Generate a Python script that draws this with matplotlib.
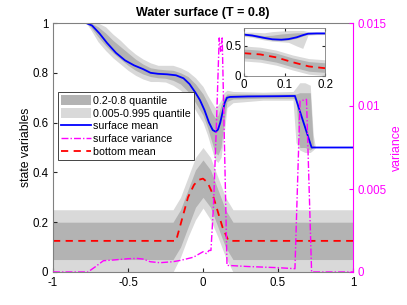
import matplotlib
matplotlib.use("Agg")
import matplotlib.pyplot as plt
from matplotlib.patches import Patch
from matplotlib.lines import Line2D

plt.rcParams['font.family'] = ['Liberation Sans', 'DejaVu Sans']
plt.rcParams['font.size'] = 8.3

# ---------------- data ----------------
# surface mean
xs_mean = [-1, -0.78, -0.74, -0.69, -0.64, -0.58, -0.52, -0.46, -0.40, -0.35, -0.30,
           -0.24, -0.18, -0.13, -0.09, -0.05, -0.02, 0.01, 0.04, 0.065, 0.085, 0.10,
           0.115, 0.13, 0.145, 0.16, 0.18, 0.3, 0.5, 0.613, 0.724, 1]
s_mean = [1, 1, 0.99, 0.958, 0.92, 0.88, 0.85, 0.83, 0.815, 0.80, 0.796,
          0.794, 0.79, 0.778, 0.755, 0.72, 0.69, 0.65, 0.60, 0.57, 0.563, 0.572,
          0.60, 0.64, 0.68, 0.70, 0.703, 0.705, 0.706, 0.707, 0.5, 0.5]

# surface quantile bands
xs_band = [-1, -0.78, -0.75, -0.70, -0.65, -0.60, -0.55, -0.50, -0.45, -0.40, -0.35,
           -0.30, -0.25, -0.20, -0.15, -0.10, -0.05, 0.0, 0.03, 0.06, 0.08, 0.10,
           0.12, 0.14, 0.16, 0.20, 0.40, 0.60, 0.62, 0.645, 0.68, 0.715, 0.735, 0.75, 1]
s_dark_lo = [1, 1, 0.985, 0.945, 0.91, 0.88, 0.855, 0.83, 0.81, 0.795, 0.785,
             0.78, 0.778, 0.77, 0.755, 0.725, 0.68, 0.63, 0.58, 0.52, 0.48, 0.47,
             0.50, 0.60, 0.685, 0.695, 0.698, 0.698, 0.69, 0.50, 0.50, 0.49, 0.50, 0.5, 0.5]
s_dark_hi = [1, 1, 1.0, 0.985, 0.96, 0.93, 0.905, 0.88, 0.855, 0.835, 0.82,
             0.815, 0.812, 0.81, 0.80, 0.785, 0.755, 0.715, 0.68, 0.64, 0.62, 0.63,
             0.67, 0.70, 0.715, 0.715, 0.714, 0.715, 0.715, 0.72, 0.72, 0.72, 0.51, 0.5, 0.5]
s_light_lo = [1, 1, 0.975, 0.925, 0.89, 0.86, 0.835, 0.81, 0.79, 0.775, 0.765,
              0.765, 0.763, 0.75, 0.73, 0.70, 0.65, 0.60, 0.55, 0.49, 0.45, 0.44,
              0.46, 0.55, 0.66, 0.68, 0.69, 0.69, 0.52, 0.49, 0.48, 0.48, 0.49, 0.5, 0.5]
s_light_hi = [1, 1, 1.0, 1.0, 0.985, 0.955, 0.93, 0.90, 0.875, 0.855, 0.84,
              0.83, 0.83, 0.83, 0.82, 0.805, 0.78, 0.745, 0.71, 0.68, 0.66, 0.67,
              0.69, 0.72, 0.73, 0.725, 0.722, 0.725, 0.74, 0.76, 0.76, 0.75, 0.55, 0.5, 0.5]

# bottom mean
xb_mean = [-1, -0.18, -0.15, -0.1, -0.06, -0.03, 0, 0.03, 0.06, 0.1, 0.13, 0.17, 1]
b_mean = [0.125, 0.125, 0.19, 0.30, 0.35, 0.37, 0.375, 0.36, 0.32, 0.24, 0.18, 0.125, 0.125]

# bottom quantile bands
xb_band = [-1, -0.2, -0.15, -0.1, -0.05, 0, 0.05, 0.1, 0.15, 0.2, 1]
b_light_lo = [0, 0, 0.06, 0.14, 0.21, 0.257, 0.21, 0.14, 0.06, 0, 0]
b_dark_lo = [0.05, 0.05, 0.10, 0.18, 0.26, 0.30, 0.26, 0.18, 0.10, 0.05, 0.05]
b_dark_hi = [0.2, 0.2, 0.25, 0.33, 0.41, 0.45, 0.41, 0.33, 0.25, 0.2, 0.2]
b_light_hi = [0.25, 0.25, 0.30, 0.38, 0.46, 0.50, 0.46, 0.38, 0.30, 0.25, 0.25]

# surface variance
xv = [-1, -0.767, -0.72, -0.664, -0.6, -0.5, -0.442, -0.4, -0.353, -0.287, -0.2,
      -0.15, -0.064, 0.0, 0.024, 0.04, 0.053, 0.07, 0.09, 0.108, 0.118, 0.128,
      0.14, 0.16, 0.3, 0.5, 0.613, 0.647, 0.69, 0.724, 1]
s_var = [0, 0, 0.0003, 0.00068, 0.00072, 0.0008, 0.00082, 0.00078, 0.00062, 0.00056, 0.00062,
         0.0007, 0.00089, 0.00122, 0.0011, 0.0013, 0.0013, 0.004, 0.009, 0.0141, 0.0133, 0.0141,
         0.009, 0.0004, 0.00033, 0.00026, 0.0002, 0.0103, 0.0104, 0.0, 0.0]

# inset data
xi = [0, 0.02, 0.05, 0.07, 0.092, 0.11, 0.13, 0.145, 0.158, 0.18, 0.2]
i_s_mean = [0.69, 0.675, 0.635, 0.612, 0.605, 0.615, 0.645, 0.68, 0.705, 0.71, 0.71]
i_s_dark_lo = [0.675, 0.66, 0.62, 0.598, 0.59, 0.60, 0.63, 0.665, 0.695, 0.70, 0.70]
i_s_dark_hi = [0.71, 0.70, 0.67, 0.68, 0.70, 0.71, 0.72, 0.72, 0.72, 0.72, 0.72]
i_s_light_lo = [0.66, 0.645, 0.60, 0.58, 0.57, 0.56, 0.50, 0.46, 0.68, 0.69, 0.69]
i_s_light_hi = [0.73, 0.73, 0.72, 0.74, 0.75, 0.76, 0.76, 0.76, 0.74, 0.73, 0.73]
xib = [0, 0.04, 0.08, 0.12, 0.16, 0.2]
i_b_mean = [0.38, 0.36, 0.31, 0.23, 0.16, 0.13]
i_b_light_lo = [0.25, 0.23, 0.18, 0.10, 0.03, 0.005]
i_b_dark_lo = [0.30, 0.28, 0.23, 0.15, 0.08, 0.06]
i_b_dark_hi = [0.45, 0.43, 0.38, 0.30, 0.24, 0.22]
i_b_light_hi = [0.50, 0.48, 0.43, 0.35, 0.29, 0.27]

xticks = [-1, -0.5, 0, 0.5, 1]
xticklabels = ['-1', '-0.5', '0', '0.5', '1']
yticks = [0, 0.2, 0.4, 0.6, 0.8, 1]
yticklabels = ['0', '0.2', '0.4', '0.6', '0.8', '1']
vticks = [0, 0.005, 0.01, 0.015]
vticklabels = ['0', '0.005', '0.01', '0.015']

# ---------------- styling ----------------
DARK = (0.70, 0.70, 0.70)
LIGHT = (0.85, 0.85, 0.85)
AXC = (0.15, 0.15, 0.15)
SPC = (0.5, 0.5, 0.5)
MAG = '#ff00ff'

fig = plt.figure(figsize=(4.07, 3.05), dpi=100)
ax = fig.add_axes([53/407, 33/305, 300/407, 249/305])

ax.fill_between(xb_band, b_light_lo, b_light_hi, color=LIGHT, lw=0)
ax.fill_between(xb_band, b_dark_lo, b_dark_hi, color=DARK, lw=0)
ax.fill_between(xs_band, s_light_lo, s_light_hi, color=LIGHT, lw=0)
ax.fill_between(xs_band, s_dark_lo, s_dark_hi, color=DARK, lw=0)
l_surf, = ax.plot(xs_mean, s_mean, color='blue', lw=1.3)
l_bot, = ax.plot(xb_mean, b_mean, color='red', lw=1.3, ls=(0, (4, 3)))

ax.set_xlim(-1, 1)
ax.set_ylim(0, 1)
ax.set_xticks(xticks)
ax.set_xticklabels(xticklabels)
ax.set_yticks(yticks)
ax.set_yticklabels(yticklabels)
ax.tick_params(direction='in', length=3, colors=AXC, labelcolor='black', top=False)
for s in ['left', 'bottom', 'top']:
    ax.spines[s].set_color(SPC)
ax.spines['right'].set_visible(False)
ax.set_ylabel('state variables', color='black', labelpad=0, fontsize=8.8)
ax.set_title('Water surface (T = 0.8)', fontweight='bold', fontsize=9, pad=5)

ax2 = ax.twinx()
l_var, = ax2.plot(xv, s_var, color=MAG, lw=1.0, ls=(0, (5, 1.5, 1, 1.5)))
ax2.set_ylim(0, 0.015)
ax2.set_yticks(vticks)
ax2.set_yticklabels(vticklabels)
ax2.tick_params(direction='in', length=3, colors=MAG, labelcolor=MAG)
ax2.spines['right'].set_color(MAG)
for s in ['left', 'bottom', 'top']:
    ax2.spines[s].set_visible(False)
ax2.set_ylabel('variance', color=MAG, labelpad=3, fontsize=8.8)

handles = [Patch(facecolor=DARK, edgecolor='none'),
           Patch(facecolor=LIGHT, edgecolor='none'),
           Line2D([], [], color='blue', lw=1.3),
           Line2D([], [], color=MAG, lw=1.0, ls=(0, (5, 1.5, 1, 1.5))),
           Line2D([], [], color='red', lw=1.3, ls=(0, (4, 3)))]
labels = ['0.2-0.8 quantile', '0.005-0.995 quantile', 'surface mean',
          'surface variance', 'bottom mean']
leg = ax2.legend(handles, labels, loc='upper left', bbox_to_anchor=(0.015, 0.722),
                 frameon=True, fancybox=False, framealpha=1, edgecolor=AXC,
                 handlelength=2.8, handleheight=1.0, handletextpad=0.2,
                 labelspacing=0.22, borderpad=0.3, borderaxespad=0, fontsize=7.7)
leg.get_frame().set_linewidth(0.6)

# inset
axi = fig.add_axes([244/407, (305-76)/305, 81/407, 48/305])
axi.fill_between(xib, i_b_light_lo, i_b_light_hi, color=LIGHT, lw=0)
axi.fill_between(xib, i_b_dark_lo, i_b_dark_hi, color=DARK, lw=0)
axi.fill_between(xi, i_s_light_lo, i_s_light_hi, color=LIGHT, lw=0)
axi.fill_between(xi, i_s_dark_lo, i_s_dark_hi, color=DARK, lw=0)
axi.plot(xi, i_s_mean, color='blue', lw=1.3)
axi.plot(xib, i_b_mean, color='red', lw=1.3, ls=(0, (4, 3)))
axi.set_xlim(0, 0.2)
axi.set_ylim(0, 0.8)
axi.set_xticks([0, 0.1, 0.2])
axi.set_xticklabels(['0', '0.1', '0.2'])
axi.set_yticks([0, 0.5])
axi.set_yticklabels(['0', '0.5'])
axi.tick_params(direction='in', length=2, colors=AXC, labelcolor='black', pad=2,
                top=True, right=True, labelsize=8.3)
for s in axi.spines.values():
    s.set_color(SPC)
    s.set_linewidth(0.6)

fig.savefig('out.png', dpi=100)
